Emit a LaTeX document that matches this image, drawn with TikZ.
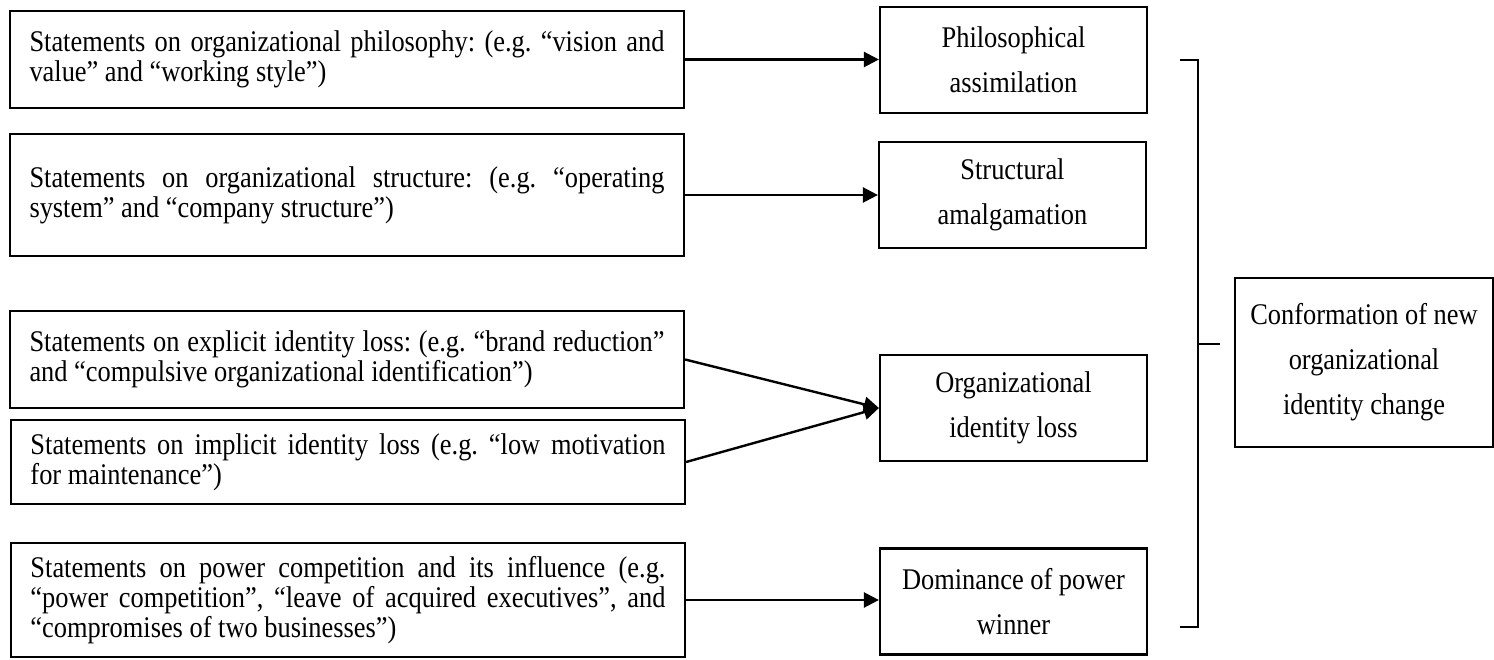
\documentclass[tikz,border=0pt]{standalone}
\usepackage{fontspec}
\setmainfont{Liberation Serif}[FakeStretch=0.88]
\usetikzlibrary{arrows.meta}
\tikzset{
  srcbox/.style={draw, line width=2.2pt, text width=635pt, inner xsep=19.5pt, inner ysep=0pt, align=justify,
    font=\fontsize{30pt}{30pt}\selectfont\frenchspacing, anchor=center},
  resbox/.style={draw, line width=2.2pt, minimum width=267pt, minimum height=106pt, inner sep=0pt, align=center,
    font=\fontsize{30pt}{45pt}\selectfont\frenchspacing, anchor=center},
  arr/.style={line width=2.4pt, -{Triangle[length=15pt,width=15pt]}},
  brk/.style={line width=1.8pt}
}
\begin{document}
\begin{tikzpicture}[x=1pt,y=-1pt]
\useasboundingbox (0,0) rectangle (1494,660);
% source boxes
\node[srcbox, minimum height=97pt] (s1) at (347,59.5) {Statements on organizational philosophy: (e.g. “vision and\linebreak value” and “working style”)};
\node[srcbox, minimum height=122pt] (s2) at (347,195) {Statements on organizational structure: (e.g. “operating\linebreak system” and “company structure”)};
\node[srcbox, minimum height=97pt] (s3) at (347,359.5) {Statements on explicit identity loss: (e.g. “brand reduction”\linebreak and “compulsive organizational identification”)};
\node[srcbox, minimum height=84pt] (s4) at (348,462) {Statements on implicit identity loss (e.g. “low motivation\linebreak for maintenance”)};
\node[srcbox, minimum height=114pt] (s5) at (348,600) {Statements on power competition and its influence (e.g.\linebreak “power competition”, “leave of acquired executives”, and\linebreak “compromises of two businesses”)};
% result boxes
\node[resbox] (p1) at (1013.5,60) {Philosophical\\assimilation};
\node[resbox] (p2) at (1012.5,195) {Structural\\amalgamation};
\node[resbox] (p3) at (1013.5,408) {Organizational\\identity loss};
\node[resbox] (p4) at (1013.5,601.5) {Dominance of power\\winner};
\node[resbox, minimum width=258pt, minimum height=169pt] (c) at (1364,362.5) {Conformation of new\\organizational\\identity change};
% arrows
\draw[arr] (s1.east) -- (s1.east -| p1.west);
\draw[arr] (s2.east) -- (s2.east -| p2.west);
\draw[arr] (s3.east) -- (p3.west);
\draw[arr] (s4.east) -- (p3.west);
\draw[arr] (s5.east) -- (s5.east -| p4.west);
% bracket
\coordinate (bt) at (1180,60);
\coordinate (btr) at (1198,60);
\coordinate (bbr) at (1198,627);
\coordinate (bb) at (1180,627);
\coordinate (bm) at (1198,344);
\coordinate (bmr) at (1220,344);
\draw[brk] (bt) -- (btr) -- (bbr) -- (bb);
\draw[brk] (bm) -- (bmr);
\end{tikzpicture}
\end{document}
